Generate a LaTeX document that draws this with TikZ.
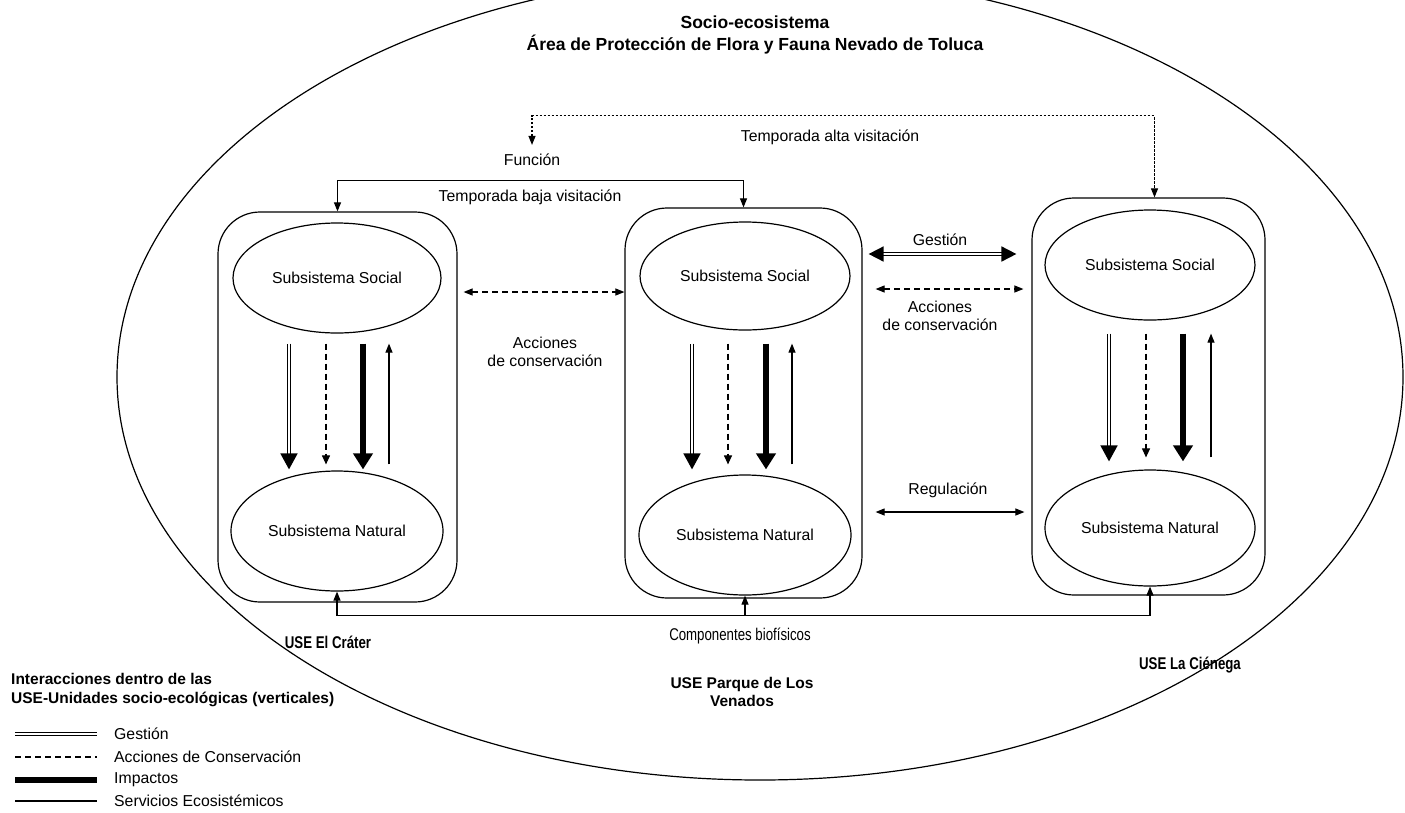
\documentclass[tikz,border=0pt]{standalone}
\usepackage{fontspec}
\setmainfont{Liberation Sans}
\newfontfamily\narrowfont[FakeStretch=0.78]{Liberation Sans}
\usetikzlibrary{arrows.meta}
\usetikzlibrary{shapes.geometric}

\begin{document}
\begin{tikzpicture}[x=1pt, y=-1pt,
        >={Triangle[length=9pt,width=7pt]},
        lbl/.style={font=\fontsize{15.8}{18.5}\selectfont, inner sep=1pt},
        lblb/.style={font=\fontsize{15.5}{18.5}\selectfont\bfseries, inner sep=1pt},
        lbln/.style={font=\narrowfont\fontsize{17}{19}\selectfont, inner sep=1pt},
        lblnb/.style={font=\narrowfont\bfseries\fontsize{17}{19}\selectfont, inner sep=1pt},
        usebox/.style={draw, line width=1.2pt, rounded corners=42pt},
        subsys/.style={draw, ellipse, line width=1.2pt, lbl},
        gestion/.style={double, double distance=1.5pt, line width=1.7pt},
        acciones/.style={line width=1.1pt, dash pattern=on 6pt off 4pt},
        impacto/.style={line width=6pt},
        servicio/.style={line width=1.1pt},
        gestarrow/.style={gestion, -{Triangle[length=16pt,width=17pt]}},
        accarrow/.style={acciones, -{Triangle[length=9pt,width=8pt]}},
        imparrow/.style={impacto, -{Triangle[length=16pt,width=19pt]}},
        servarrow/.style={servicio, ->}]
    \useasboundingbox (0,0) rectangle (1405,812);
    \clip (0,0) rectangle (1405,812);
    \node (sistema) [draw, ellipse, line width=1.2pt, minimum width=1286pt, minimum height=806pt] at (760,377) {};
    \node (titulo) [lblb, font=\fontsize{17.5}{22}\selectfont\bfseries, align=center] at (755,35)
        {Socio-ecosistema\\Área de Protección de Flora y Fauna Nevado de Toluca};
    % unidades socio-ecologicas
    \node (crater) [usebox, minimum width=239pt, minimum height=390pt] at (337.5,407) {};
    \node (venados) [usebox, minimum width=237pt, minimum height=390pt] at (743.5,403) {};
    \node (cienega) [usebox, minimum width=233pt, minimum height=397pt] at (1148.5,396.5) {};
    \node (craterSoc) [subsys, minimum width=208pt, minimum height=110pt] at (337,278) {Subsistema Social};
    \node (craterNat) [subsys, minimum width=212pt, minimum height=120pt] at (337,531) {Subsistema Natural};
    \node (venadosSoc) [subsys, minimum width=210pt, minimum height=108pt] at (745,276) {Subsistema Social};
    \node (venadosNat) [subsys, minimum width=212pt, minimum height=120pt] at (745,535) {Subsistema Natural};
    \node (cienegaSoc) [subsys, minimum width=210pt, minimum height=110pt] at (1150,265) {Subsistema Social};
    \node (cienegaNat) [subsys, minimum width=210pt, minimum height=116pt] at (1150,528) {Subsistema Natural};
    % interacciones verticales
    \draw[gestarrow] ([xshift=-48pt,yshift=-10pt]craterSoc.south) -- ([xshift=-48pt,yshift=1pt]craterNat.north);
    \draw[accarrow] ([xshift=-11pt,yshift=-10pt]craterSoc.south) -- ([xshift=-11pt,yshift=6pt]craterNat.north);
    \draw[imparrow] ([xshift=26pt,yshift=-10pt]craterSoc.south) -- ([xshift=26pt,yshift=1pt]craterNat.north);
    \draw[servarrow] ([xshift=52pt,yshift=6pt]craterNat.north) -- ([xshift=52pt,yshift=-10pt]craterSoc.south);
    \draw[gestarrow] ([xshift=-53pt,yshift=-13pt]venadosSoc.south) -- ([xshift=-53pt,yshift=5pt]venadosNat.north);
    \draw[accarrow] ([xshift=-17pt,yshift=-13pt]venadosSoc.south) -- ([xshift=-17pt,yshift=10pt]venadosNat.north);
    \draw[imparrow] ([xshift=21pt,yshift=-13pt]venadosSoc.south) -- ([xshift=21pt,yshift=5pt]venadosNat.north);
    \draw[servarrow] ([xshift=47pt,yshift=10pt]venadosNat.north) -- ([xshift=47pt,yshift=-13pt]venadosSoc.south);
    \draw[gestarrow] ([xshift=-41pt,yshift=-13pt]cienegaSoc.south) -- ([xshift=-41pt,yshift=8pt]cienegaNat.north);
    \draw[accarrow] ([xshift=-4pt,yshift=-13pt]cienegaSoc.south) -- ([xshift=-4pt,yshift=12pt]cienegaNat.north);
    \draw[imparrow] ([xshift=33pt,yshift=-13pt]cienegaSoc.south) -- ([xshift=33pt,yshift=8pt]cienegaNat.north);
    \draw[servarrow] ([xshift=61pt,yshift=12pt]cienegaNat.north) -- ([xshift=61pt,yshift=-13pt]cienegaSoc.south);
    % interacciones entre unidades
    \coordinate (acc12) at ([xshift=6pt,yshift=115pt]crater.east);
    \draw[acciones, <->] (acc12) -- (acc12 -| venados.west);
    \node (acc12lbl) [lbl, align=center] at (545,352) {Acciones\\de conservación};
    \coordinate (gest23) at ([xshift=6pt,yshift=149pt]venados.east);
    \draw[gestion, {Triangle[length=15pt,width=15pt]}-{Triangle[length=15pt,width=15pt]}] (gest23) -- ([xshift=-15pt]gest23 -| cienega.west);
    \node (gest23lbl) [lbl] at (940,240) {Gestión};
    \coordinate (acc23) at ([xshift=13pt,yshift=114pt]venados.east);
    \draw[acciones, <->] (acc23) -- ([xshift=-8pt]acc23 -| cienega.west);
    \node (acc23lbl) [lbl, align=center] at (940,316) {Acciones\\de conservación};
    \coordinate (reg23) at ([xshift=13pt,yshift=-109pt]venados.east);
    \draw[servicio, <->] (reg23) -- ([xshift=-7pt]reg23 -| cienega.west);
    \node (reg23lbl) [lbl] at (948,490) {Regulación};
    % funcion
    \draw[servicio, <->] (crater.north) -- ++(0,-31) -| (venados.north);
    \node (bajalbl) [lbl] at (530,197) {Temporada baja visitación};
    \node (funcion) [lbl] at (532,160) {Función};
    \draw[servicio, dash pattern=on 2.5pt off 1.5pt, <->] ([yshift=8pt]funcion.north) -- ++(0,-29) -| ([xshift=6pt]cienega.north);
    \node (altalbl) [lbl] at (830,137) {Temporada alta visitación};
    % componentes biofisicos
    \coordinate (bioLine) at ([yshift=-24pt]craterNat.south);
    \draw[servicio, <->] (craterNat.south) -- (bioLine) -| (cienegaNat.south);
    \draw[servicio, ->] (venadosNat.south |- bioLine) -- (venadosNat.south);
    \node (biolbl) [lbln] at (740,636) {Componentes biofísicos};
    \node (craterlbl) [lblnb] at (328,642) {USE El Cráter};
    \node (venadoslbl) [lblb, align=center] at (742,692) {USE Parque de Los\\Venados};
    \node (cienegalbl) [lblnb] at (1190,665) {USE La Ciénega};
    % leyenda
    \node (leyenda) [lblb, align=left, anchor=west] at (10,690) {Interacciones dentro de las\\USE-Unidades socio-ecológicas (verticales)};
    \node (legGest) [lbl, anchor=west] at (113,734) {Gestión};
    \node (legAcc) [lbl, anchor=west] at (113,757) {Acciones de Conservación};
    \node (legImp) [lbl, anchor=west] at (113,780) {Impactos};
    \node (legServ) [lbl, anchor=west] at (113,801) {Servicios Ecosistémicos};
    \draw[gestion] ([xshift=-98pt]legGest.west) -- ([xshift=-16pt]legGest.west);
    \draw[acciones] ([xshift=-98pt]legAcc.west) -- ([xshift=-16pt]legAcc.west);
    \draw[impacto] ([xshift=-98pt]legImp.west) -- ([xshift=-16pt]legImp.west);
    \draw[servicio] ([xshift=-98pt]legServ.west) -- ([xshift=-16pt]legServ.west);
\end{tikzpicture}
\end{document}
